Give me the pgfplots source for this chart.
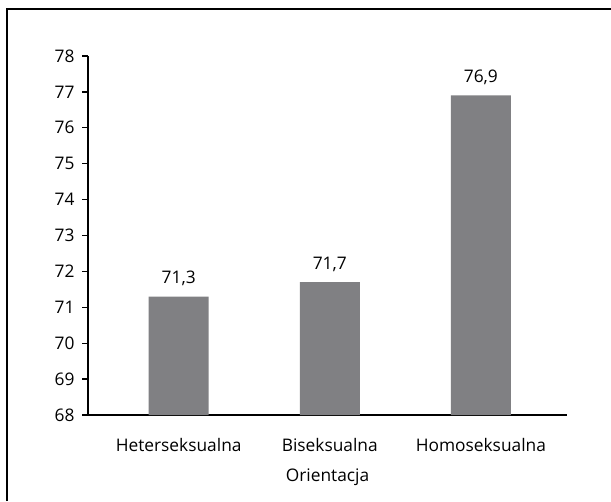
\documentclass[border=0pt]{standalone}
\usepackage{fontspec}
\setmainfont{Open Sans}
\usepackage{pgfplots}
\pgfplotsset{compat=1.18}
\definecolor{bargray}{RGB}{128,128,131}

\begin{document}
\begin{tikzpicture}
% 1 px of the reference = 0.6pt
\useasboundingbox (0,0) rectangle (366.6pt,300.6pt);
\draw[line width=0.9pt] (4.2pt,0) -- (4.2pt,295.2pt) -- (366.6pt,295.2pt);
\begin{axis}[
  at={(52.8pt,51.6pt)}, anchor=south west,
  scale only axis,
  width=287.4pt, height=215.4pt,
  font=\fontsize{10.4}{12}\selectfont,
  axis x line*=bottom, axis y line*=left,
  axis line style={line width=0.8pt, -},
  xmin=-0.6, xmax=2.57,
  ymin=68, ymax=78, ytick distance=1,
  xtick=data,
  xticklabels={Heterseksualna, Biseksualna, Homoseksualna},
  x tick style={draw=none},
  y tick style={line width=0.8pt, black},
  tick align=outside, major tick length=3.6pt,
  yticklabel style={xshift=-1pt},
  xticklabel style={yshift=-7pt},
  xlabel={Orientacja},
  xlabel style={yshift=-3pt},
  ybar, bar width=36pt,
  /pgf/number format/assume math mode=true,
  nodes near coords,
  every node near coord/.append style={yshift=3pt,
    /pgf/number format/fixed, /pgf/number format/fixed zerofill,
    /pgf/number format/precision=1, /pgf/number format/use comma},
]
\addplot[fill=bargray, draw=none] coordinates {(0,71.3) (1,71.7) (2,76.9)};
\end{axis}
\end{tikzpicture}
\end{document}
